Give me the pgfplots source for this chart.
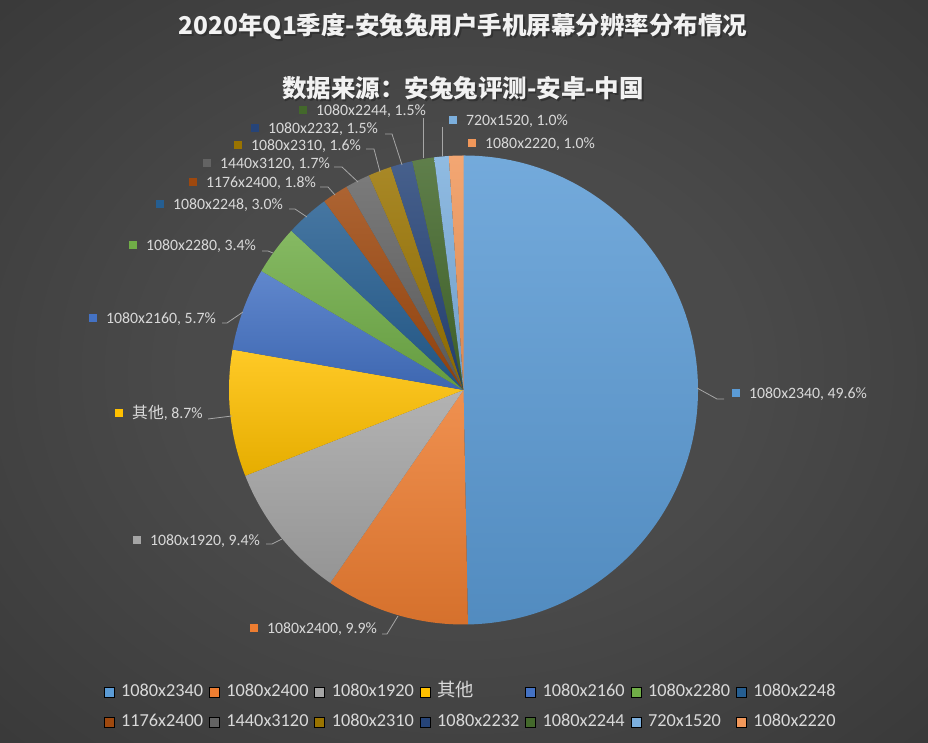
\documentclass[border=0pt]{standalone}
\usepackage{pgfplots}
\usepackage{pgfplotstable}
\pgfplotsset{compat=1.18}
\usepackage{fontspec}
\setmainfont{Carlito}
\newfontfamily\cjk{Noto Sans CJK SC}

\definecolor{bgin}{HTML}{4A4A4A}
\definecolor{bgout}{HTML}{262626}
\definecolor{lbl}{HTML}{D9D9D9}
\definecolor{lead}{HTML}{A6A6A6}
\definecolor{c1}{HTML}{5B9BD5}
\definecolor{c2}{HTML}{ED7D31}
\definecolor{c3}{HTML}{A5A5A5}
\definecolor{c4}{HTML}{FFC000}
\definecolor{c5}{HTML}{4472C4}
\definecolor{c6}{HTML}{70AD47}
\definecolor{c7}{HTML}{255E91}
\definecolor{c8}{HTML}{9E480E}
\definecolor{c9}{HTML}{636363}
\definecolor{c10}{HTML}{997300}
\definecolor{c11}{HTML}{264478}
\definecolor{c12}{HTML}{43682B}
\definecolor{c13}{HTML}{7CAFDD}
\definecolor{c14}{HTML}{F1975A}

\pgfdeclareradialshading{bgshade}{\pgfpoint{0bp}{0bp}}{color(0bp)=(bgin); color(15bp)=(bgin); color(60bp)=(bgout); color(80bp)=(bgout)}

% share of each resolution, clockwise from 12 o'clock
\pgfplotstableread[col sep=comma]{
res,value,col
1080x2340,49.6,c1
1080x2400,9.9,c2
1080x1920,9.4,c3
other,8.7,c4
1080x2160,5.7,c5
1080x2280,3.4,c6
1080x2248,3.0,c7
1176x2400,1.8,c8
1440x3120,1.7,c9
1080x2310,1.6,c10
1080x2232,1.5,c11
1080x2244,1.5,c12
720x1520,1.0,c13
1080x2220,1.0,c14
}\piedata

% label: square x, pixel y, text
\newcommand\lab[4]{%
  \fill[#4] (axis cs:#1-4.3,743-#2-4.3) rectangle (axis cs:#1+4.3,743-#2+4.3);
  \node[anchor=base west, inner sep=0pt, text=lbl, font=\fontsize{15.8}{18}\selectfont]
    at (axis cs:#1+13,743-#2-5.2) {#3};
}
\newcommand\leadline[1]{\draw[lead, line width=0.8pt] #1;}

\begin{document}
\begin{tikzpicture}
\begin{axis}[
  width=928pt, height=743pt, scale only axis,
  xmin=0, xmax=928, ymin=0, ymax=743,
  hide axis, clip=false,
  legend columns=7,
  legend cell align=left,
  legend image code/.code={\fill[#1] (0pt,-5pt) rectangle (10pt,5pt);},
  legend style={at={(axis cs:472.5,36)}, anchor=center, draw=none, fill=none,
    text=lbl, font=\fontsize{18.3}{20}\selectfont,
    nodes={inner sep=0pt, text height=13pt, text depth=4pt},
    row sep=13pt,
    /tikz/every odd column/.append style={column sep=7pt},
    /tikz/every even column/.append style={column sep=0pt},
  },
]
\shade[shading=bgshade] (axis cs:0,0) rectangle (axis cs:928,743);

% pie slices
\pgfplotstablegetrowsof{\piedata}
\pgfmathtruncatemacro\nrows{\pgfplotsretval-1}
\def\angA{90}
\pgfplotsforeachungrouped \i in {0,...,\nrows}{%
  \pgfplotstablegetelem{\i}{value}\of\piedata \let\v\pgfplotsretval
  \pgfplotstablegetelem{\i}{col}\of\piedata \let\c\pgfplotsretval
  \pgfmathsetmacro\angB{\angA-\v/99.8*360}%
  \edef\temp{\noexpand\shade[top color=\c!85!white, bottom color=\c!90!black]
    (axis cs:463.5,353) -- ++(\angA:234.5pt) arc[start angle=\angA, end angle=\angB, radius=234.5pt] -- cycle;}%
  \temp
  \let\angA\angB
}

% leader lines
\leadline{(axis cs:697,743-388) -- (axis cs:717,743-399) -- (axis cs:724,743-399)}
\leadline{(axis cs:382,743-634) -- (axis cs:387,743-634) -- (axis cs:398,743-616)}
\leadline{(axis cs:266,743-544) -- (axis cs:272,743-544) -- (axis cs:282,743-539)}
\leadline{(axis cs:208,743-419) -- (axis cs:232,743-416)}
\leadline{(axis cs:222,743-323) -- (axis cs:227,743-323) -- (axis cs:243,743-312)}
\leadline{(axis cs:262,743-251) -- (axis cs:268,743-251) -- (axis cs:273,743-253)}
\leadline{(axis cs:289,743-209) -- (axis cs:295,743-209) -- (axis cs:307,743-217)}
\leadline{(axis cs:320,743-187) -- (axis cs:328,743-187) -- (axis cs:335,743-195)}
\leadline{(axis cs:334,743-167) -- (axis cs:342,743-167) -- (axis cs:358,743-182)}
\leadline{(axis cs:366,743-149) -- (axis cs:374,743-149) -- (axis cs:380,743-172)}
\leadline{(axis cs:385,743-134) -- (axis cs:392,743-134) -- (axis cs:402,743-165)}
\leadline{(axis cs:423,743-118) -- (axis cs:423,743-158)}
\leadline{(axis cs:442,743-127) -- (axis cs:442,743-156)}

% data labels
\lab{736}{393}{1080x2340, 49.6\%}{c1}
\lab{254}{628}{1080x2400, 9.9\%}{c2}
\lab{137}{540}{1080x1920, 9.4\%}{c3}
\lab{119}{413}{{\cjk 其他}, 8.7\%}{c4}
\lab{93}{318}{1080x2160, 5.7\%}{c5}
\lab{133}{245}{1080x2280, 3.4\%}{c6}
\lab{160}{204}{1080x2248, 3.0\%}{c7}
\lab{193}{182}{1176x2400, 1.8\%}{c8}
\lab{207}{163}{1440x3120, 1.7\%}{c9}
\lab{238}{145}{1080x2310, 1.6\%}{c10}
\lab{255}{128}{1080x2232, 1.5\%}{c11}
\lab{303}{110}{1080x2244, 1.5\%}{c12}
\lab{453}{120}{720x1520, 1.0\%}{c13}
\lab{472}{143}{1080x2220, 1.0\%}{c14}

% titles
\node[text=black!80, font=\cjk\bfseries\fontsize{24.5}{28}\selectfont] at (axis cs:464.8,743-28.8) {2020年Q1季度-安兔兔用户手机屏幕分辨率分布情况};
\node[text=white!95!black, font=\cjk\bfseries\fontsize{24.5}{28}\selectfont] at (axis cs:463,743-27) {2020年Q1季度-安兔兔用户手机屏幕分辨率分布情况};
\node[text=black!80, font=\cjk\bfseries\fontsize{24.5}{28}\selectfont] at (axis cs:464.8,743-89.8) {数据来源：安兔兔评测-安卓-中国};
\node[text=white!95!black, font=\cjk\bfseries\fontsize{24.5}{28}\selectfont] at (axis cs:463,743-88) {数据来源：安兔兔评测-安卓-中国};

% legend
\addlegendimage{fill=c1}\addlegendentry{\makebox[88pt][l]{1080x2340}}
\addlegendimage{fill=c2}\addlegendentry{\makebox[88pt][l]{1080x2400}}
\addlegendimage{fill=c3}\addlegendentry{\makebox[88pt][l]{1080x1920}}
\addlegendimage{fill=c4}\addlegendentry{\makebox[88pt][l]{\cjk 其他}}
\addlegendimage{fill=c5}\addlegendentry{\makebox[88pt][l]{1080x2160}}
\addlegendimage{fill=c6}\addlegendentry{\makebox[88pt][l]{1080x2280}}
\addlegendimage{fill=c7}\addlegendentry{\makebox[88pt][l]{1080x2248}}
\addlegendimage{fill=c8}\addlegendentry{\makebox[88pt][l]{1176x2400}}
\addlegendimage{fill=c9}\addlegendentry{\makebox[88pt][l]{1440x3120}}
\addlegendimage{fill=c10}\addlegendentry{\makebox[88pt][l]{1080x2310}}
\addlegendimage{fill=c11}\addlegendentry{\makebox[88pt][l]{1080x2232}}
\addlegendimage{fill=c12}\addlegendentry{\makebox[88pt][l]{1080x2244}}
\addlegendimage{fill=c13}\addlegendentry{\makebox[88pt][l]{720x1520}}
\addlegendimage{fill=c14}\addlegendentry{\makebox[88pt][l]{1080x2220}}
\end{axis}
\end{tikzpicture}
\end{document}
